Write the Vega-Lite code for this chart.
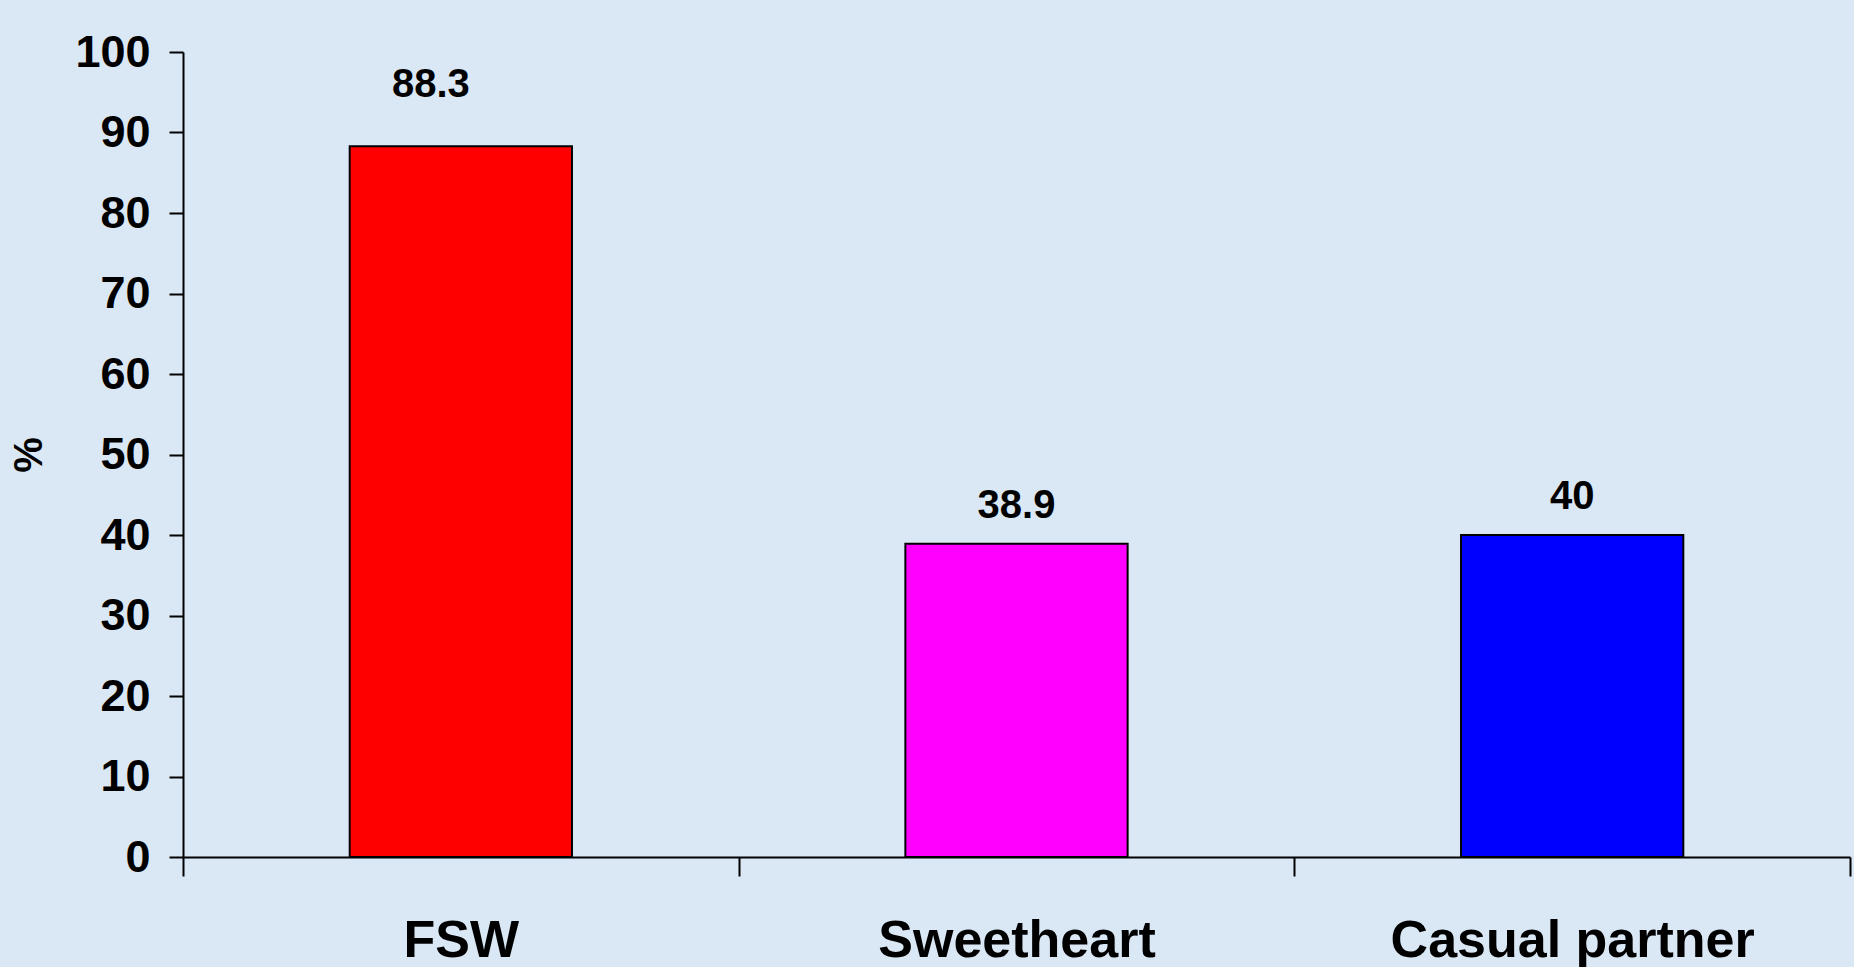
{
  "$schema": "https://vega.github.io/schema/vega-lite/v6.json",
  "width": 1667,
  "height": 805,
  "autosize": {"type": "none"},
  "padding": {"left": 183, "top": 52, "right": 4, "bottom": 110},
  "background": "#dae7f5",
  "config": {"view": {"stroke": null}, "font": "Liberation Sans"},
  "data": {
    "values": [
      {"category": "FSW", "value": 88.3},
      {"category": "Sweetheart", "value": 38.9},
      {"category": "Casual partner", "value": 40}
    ]
  },
  "encoding": {
    "x": {
      "field": "category",
      "type": "nominal",
      "sort": null,
      "scale": {"paddingInner": 0, "paddingOuter": 0},
      "axis": {
        "title": null,
        "labelAngle": 0,
        "labelLimit": 0,
        "labelFontSize": 52,
        "labelFontWeight": "bold",
        "labelColor": "#000000",
        "labelPadding": 39,
        "domainColor": "#000000",
        "domainWidth": 2,
        "tickColor": "#000000",
        "tickWidth": 2,
        "tickSize": 19,
        "tickBand": "extent",
        "grid": false
      }
    },
    "y": {
      "field": "value",
      "type": "quantitative",
      "scale": {"domain": [0, 100], "nice": false},
      "axis": {
        "title": "%",
        "titleFontSize": 40,
        "titleFontWeight": "bold",
        "titleColor": "#000000",
        "titlePadding": 25,
        "values": [0, 10, 20, 30, 40, 50, 60, 70, 80, 90, 100],
        "labelFontSize": 45,
        "labelFontWeight": "bold",
        "labelColor": "#000000",
        "labelPadding": 19,
        "domainColor": "#000000",
        "domainWidth": 2,
        "tickColor": "#000000",
        "tickWidth": 2,
        "tickSize": 14,
        "grid": false
      }
    }
  },
  "layer": [
    {
      "mark": {"type": "bar", "stroke": "#000000", "strokeWidth": 2, "width": {"band": 0.4}},
      "encoding": {
        "color": {
          "field": "category",
          "type": "nominal",
          "scale": {"domain": ["FSW", "Sweetheart", "Casual partner"], "range": ["#ff0000", "#ff00ff", "#0000ff"]},
          "legend": null
        }
      }
    },
    {
      "transform": [{"filter": "datum.category == 'FSW'"}],
      "mark": {"type": "text", "fontSize": 40, "fontWeight": "bold", "color": "#000000", "baseline": "alphabetic", "dx": -30, "dy": -49},
      "encoding": {"text": {"field": "value", "type": "quantitative"}}
    },
    {
      "transform": [{"filter": "datum.category != 'FSW'"}],
      "mark": {"type": "text", "fontSize": 40, "fontWeight": "bold", "color": "#000000", "baseline": "alphabetic", "dy": -26},
      "encoding": {"text": {"field": "value", "type": "quantitative"}}
    }
  ]
}
